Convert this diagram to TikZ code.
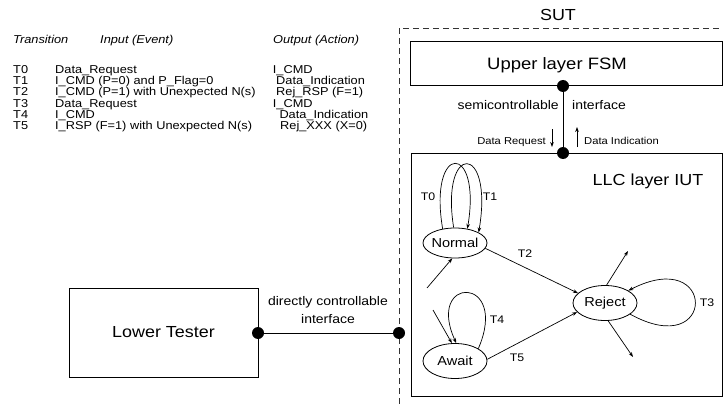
\documentclass[tikz,border=0pt]{standalone}
\usepackage{fontspec}
\setmainfont{Liberation Sans}[FakeStretch=1.12]
\usetikzlibrary{arrows.meta,shapes.geometric}

\newcommand{\fsz}[1]{\fontsize{#1}{#1}\selectfont}

\begin{document}
\begin{tikzpicture}[x=1pt,y=-1pt,
  box/.style={draw, line width=1pt, inner sep=0pt},
  state/.style={draw, ellipse, line width=0.8pt, minimum width=64pt,
    minimum height=34pt, inner sep=-6pt, font=\fsz{13}},
  tr/.style={line width=0.7pt, -{Stealth[length=5pt,width=3.6pt]}},
  lbl/.style={font=\fsz{11}, inner sep=0pt},
  port/.style={circle, fill, inner sep=0pt, minimum size=12pt},
  tbl/.style={anchor=west, inner sep=0pt, font=\fsz{11.4},
    text height=8pt, text depth=0pt},
  big/.style={inner sep=0pt, font=\fsz{16}},
  mid/.style={inner sep=0pt, font=\fsz{12.5}},
  small/.style={inner sep=0pt, font=\fsz{10}},
]
\useasboundingbox (0,0) rectangle (723,404);

% transition table
\node[tbl] (hTr)  at (13,40)  {\itshape Transition};
\node[tbl] (hIn)  at (100,40) {\itshape Input (Event)};
\node[tbl] (hOut) at (273,40) {\itshape Output (Action)};
\foreach \i/\y/\inp/\xo/\outp in {
  0/69.3/Data\_Request/272.7/I\_CMD,
  1/80.6/I\_CMD (P=0) and P\_Flag=0/276/Data\_Indication,
  2/91.9/I\_CMD (P=1) with Unexpected N(s)/276/Rej\_RSP (F=1),
  3/103.2/Data\_Request/272.7/I\_CMD,
  4/114.5/I\_CMD/279.3/Data\_Indication,
  5/125.8/I\_RSP (F=1) with Unexpected N(s)/280/Rej\_XXX (X=0)} {
  \node[tbl] (rowT\i) at (13,\y) {T\i};
  \node[tbl] (rowIn\i) at (55,\y) {\inp};
  \node[tbl] (rowOut\i) at (\xo,\y) {\outp};
}

% system under test
\draw[line width=0.8pt, black!80, dash pattern=on 6pt off 4pt]
  (399,404) -- (399,28) -- (723,28);
\node[big] (sut) at (558,15) {SUT};

% upper layer
\node[box, minimum width=312pt, minimum height=44pt] (upper) at (566,64) {};
\node[inner sep=0pt, font=\fsz{16.5}] (upperText) at (557,65) {Upper layer FSM};

% LLC layer
\node[box, minimum width=311pt, minimum height=243pt] (llc) at (566.5,274.5) {};
\node[big] (llcText) at (648,181) {LLC layer IUT};

% semicontrollable interface
\node[port] (pTop) at (563,86) {};
\node[port] (pBot) at (563,153) {};
\draw[line width=0.8pt] (pTop.center) -- (pBot.center);
\node[mid, anchor=base east] (semi) at (559,109) {semicontrollable};
\node[mid, anchor=base west] (semiIf) at (572,109) {interface};
\node[small, anchor=base east] (dReq) at (546,144) {Data Request};
\node[small, anchor=base west] (dInd) at (584,144) {Data Indication};
\coordinate (reqA) at (552,129);
\coordinate (reqB) at (552,147);
\coordinate (indA) at (577,147);
\coordinate (indB) at (577,127);
\draw[tr] (reqA) -- (reqB);
\draw[tr] (indA) -- (indB);

% lower tester and directly controllable interface
\node[box, minimum width=189pt, minimum height=89pt, font=\fsz{16}] (lt) at (163.5,332.5) {Lower Tester};
\node[port] (pLt) at (258,333) {};
\node[port] (pSut) at (399,333) {};
\draw[line width=0.8pt] (pLt.center) -- (pSut.center);
\node[inner sep=0pt, align=center, font=\fontsize{12.5}{18}\selectfont] (dcIf) at (328,310)
  {directly controllable\\interface};

% states
\node[state, minimum height=30pt] (normal) at (455,243) {Normal};
\node[state, minimum height=35pt] (await) at (455,361) {Await};
\node[state, minimum height=35pt] (reject) at (605,303) {Reject};

% self loops
\draw[tr] (normal.131) .. controls (428,142) and (482,142) .. (normal.49);
\draw[tr] (normal.95) .. controls (440,142) and (494,142) .. (normal.24);
\draw[tr] (await.28) .. controls (510,275) and (425,275) .. (await.86);
\draw[tr] (reject.-24) .. controls (717,362) and (717,245) .. (reject.28);
\node[lbl] (lT0) at (428,197) {T0};
\node[lbl] (lT1) at (490,197) {T1};
\node[lbl] (lT4) at (497,320) {T4};
\node[lbl] (lT3) at (707,303) {T3};

% transitions between states
\draw[tr] (normal.-10) -- (reject.160);
\draw[tr] (await.3) -- (reject.198);
\node[lbl] (lT2) at (525,254) {T2};
\node[lbl] (lT5) at (517,358) {T5};

% entry and exit arrows
\coordinate (inNormal) at (427,288);
\coordinate (inAwait) at (433,310);
\coordinate (outTop) at (628,251);
\coordinate (outBot) at (633,357);
\draw[tr] (inNormal) -- (normal.-100);
\draw[tr] (inAwait) -- (await.100);
\draw[tr] (reject.85) -- (outTop);
\draw[tr] (reject.-80) -- (outBot);
\end{tikzpicture}
\end{document}
